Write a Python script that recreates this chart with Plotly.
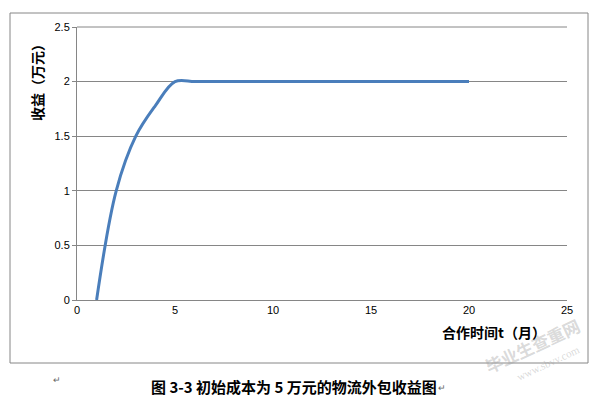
import plotly.graph_objects as go

months = [1, 2, 3, 4, 5, 6, 7, 8, 9, 10, 11, 12, 13, 14, 15, 16, 17, 18, 19, 20]
revenue = [0, 1.0, 1.5, 1.78, 2.0, 2.0, 2.0, 2.0, 2.0, 2.0, 2.0, 2.0, 2.0, 2.0, 2.0, 2.0, 2.0, 2.0, 2.0, 2.0]
x_ticks = [0, 5, 10, 15, 20, 25]
y_ticks = [0, 0.5, 1, 1.5, 2, 2.5]
y_tick_labels = ["0", "0.5", "1", "1.5", "2", "2.5"]

OFF = 8  # page body margin
W, H = 605 - OFF, 400 - OFF
L, R, T, B = 77, 567, 27, 300  # plot area bounds in screenshot pixels

def px(x):
    return (x - L) / (R - L)

def py(y):
    return (B - y) / (B - T)

GRAY = "#868686"
CJK = "Noto Sans CJK SC"

def label(text, x, y, size, family=CJK, color="#000", angle=0):
    return dict(text=text, xref="paper", yref="paper", x=px(x), y=py(y),
                xanchor="center", yanchor="middle", textangle=angle,
                showarrow=False, font=dict(family=family, size=size, color=color))

fig = go.Figure()
fig.add_trace(go.Scatter(
    x=months, y=revenue, mode="lines",
    line=dict(color="#4a7ebb", width=3, shape="spline", smoothing=1),
    hoverinfo="skip", showlegend=False,
))

WM = "rgba(160,160,160,0.4)"

fig.update_layout(
    width=W, height=H,
    margin=dict(l=L - OFF, r=605 - R, t=T - OFF, b=400 - B, autoexpand=False),
    paper_bgcolor="white", plot_bgcolor="white",
    font=dict(family="Liberation Sans, Arial", size=11, color="#000"),
    xaxis=dict(range=[0, 25], tickvals=x_ticks, showgrid=False, zeroline=False,
               showline=True, linecolor=GRAY, linewidth=1, ticks="",
               automargin=False, tickfont=dict(size=11, color="#000")),
    yaxis=dict(range=[0, 2.5], tickvals=y_ticks, ticktext=y_tick_labels, showgrid=True,
               gridcolor=GRAY, gridwidth=1, zeroline=False, showline=True,
               linecolor=GRAY, linewidth=1, ticks="outside", ticklen=4,
               tickcolor=GRAY, automargin=False, tickfont=dict(size=11, color="#000")),
    shapes=[
        dict(type="rect", xref="paper", yref="paper",
             x0=px(10), x1=px(588), y0=py(363), y1=py(13),
             line=dict(color=GRAY, width=1), fillcolor="rgba(0,0,0,0)", layer="below"),
        dict(type="line", xref="paper", yref="paper",
             x0=0, x1=1, y0=1, y1=1, line=dict(color=GRAY, width=1)),
    ],
    annotations=[
        label("<b>收益（万元）</b>", 37, 79, 14, angle=-90),
        label("<b>合作时间t（月）</b>", 494, 332, 14),
        label("<b>图 3-3 初始成本为 5 万元的物流外包收益图</b>", 294, 386, 15),
        label("↵", 442, 388, 9, family="Liberation Sans", color="#666"),
        label("↵", 57, 380, 9, family="Liberation Sans", color="#666"),
        label("<b>毕业生查重网</b>", 532, 345, 17, color=WM, angle=-25),
        label("www.sbvv.com", 548, 363, 11, family="Liberation Serif", color=WM, angle=-25),
    ],
)

fig.write_html("out.html")
